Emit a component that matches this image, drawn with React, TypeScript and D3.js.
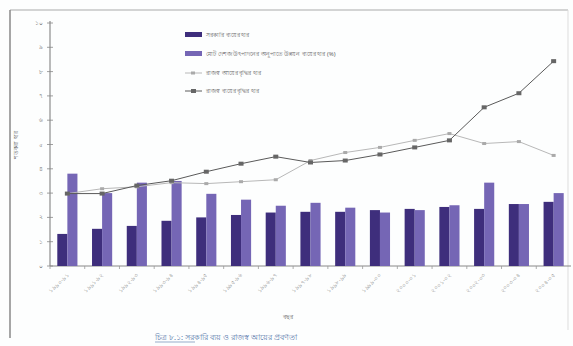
import React from "react";
import * as d3 from "d3";

const years = [
  "১৯৯০-৯১", "১৯৯১-৯২", "১৯৯২-৯৩", "১৯৯৩-৯৪", "১৯৯৪-৯৫",
  "১৯৯৫-৯৬", "১৯৯৬-৯৭", "১৯৯৭-৯৮", "১৯৯৮-৯৯", "১৯৯৯-০০",
  "২০০০-০১", "২০০১-০২", "২০০২-০৩", "২০০৩-০৪", "২০০৪-০৫",
];
const barSeriesA = [1.32, 1.53, 1.65, 1.86, 2.0, 2.1, 2.2, 2.23, 2.23, 2.3, 2.35, 2.43, 2.35, 2.55, 2.64];
const barSeriesB = [3.8, 3.0, 3.43, 3.5, 2.97, 2.73, 2.48, 2.6, 2.4, 2.2, 2.3, 2.5, 3.43, 2.55, 3.0];
const lineSeriesC = [2.98, 3.18, 3.26, 3.43, 3.39, 3.47, 3.55, 4.34, 4.67, 4.88, 5.17, 5.45, 5.04, 5.12, 4.55];
const lineSeriesD = [2.98, 2.98, 3.31, 3.51, 3.88, 4.21, 4.5, 4.26, 4.34, 4.59, 4.88, 5.17, 6.53, 7.11, 8.43];
const yTicks = [0, 1, 2, 3, 4, 5, 6, 7, 8, 9, 10];
const yTickLabels = ["০", "১", "২", "৩", "৪", "৫", "৬", "৭", "৮", "৯", "১০"];
const legendLabels = [
  "সরকারি ব্যয়ের হার",
  "মোট দেশজ উৎপাদনের অনুপাতে উন্নয়ন ব্যয়ের হার (%)",
  "রাজস্ব আয়ের বৃদ্ধির হার",
  "রাজস্ব ব্যয়ের বৃদ্ধির হার",
];
const yAxisTitle = "শতকরা হার";
const xAxisTitle = "বছর";
const caption = "চিত্র ৮.১: সরকারি ব্যয় ও রাজস্ব আয়ের প্রবণতা";

const W = 573;
const H = 346;
const FONT = "'Noto Sans', 'DejaVu Sans', sans-serif";

export default function App() {
  const x = d3.scaleBand<string>().domain(years).range([50, 571]).paddingInner(0.42).paddingOuter(0.21);
  const sub = d3.scaleBand<string>().domain(["a", "b"]).range([0, x.bandwidth()]).padding(0);
  const y = d3.scaleLinear().domain([0, 10]).range([266, 23]);
  const cx = (i: number) => (x(years[i]) as number) + x.bandwidth() / 2;
  const line = d3
    .line<number>()
    .x((_, i) => cx(i))
    .y((d) => y(d));

  const darkBar = "#3e2e7c";
  const lightBar = "#7566b5";
  const lineDark = "#5a5a5a";
  const lineLight = "#b8b8b8";

  return (
    <svg
      width={W}
      height={H}
      style={{ position: "absolute", left: 0, top: 0, background: "#fff", fontFamily: FONT }}
    >
      <rect x={0} y={0} width={W} height={H} fill="#fdfefe" />
      {/* frame */}
      <line x1={10} y1={10} x2={568} y2={10} stroke="#aaa" strokeWidth={1.2} />
      <line x1={10} y1={10} x2={10} y2={338} stroke="#888" strokeWidth={1.5} />
      <line x1={568} y1={10} x2={568} y2={330} stroke="#ddd" strokeWidth={1} />

      {/* y axis */}
      <line x1={50} y1={y(10) - 2} x2={50} y2={y(0)} stroke="#777" strokeWidth={1} />
      {yTicks.map((t, i) => (
        <g key={t}>
          <line x1={47} x2={53} y1={y(t)} y2={y(t)} stroke="#888" strokeWidth={0.8} />
          <text x={43} y={y(t) + 2} fontSize={5.5} textAnchor="end" fill="#777">
            {yTickLabels[i]}
          </text>
        </g>
      ))}
      <text
        transform={`translate(18,145) rotate(-90)`}
        fontSize={6}
        textAnchor="middle"
        fill="#555"
      >
        {yAxisTitle}
      </text>

      {/* x axis */}
      <line x1={50} x2={571} y1={y(0)} y2={y(0)} stroke="#888" strokeWidth={1} />
      {years.map((yr, i) => {
        const bx = (x(yr) as number) - (x.step() - x.bandwidth()) / 2;
        return (
          <line key={"t" + yr} x1={bx} x2={bx} y1={y(0)} y2={y(0) + 3} stroke="#999" strokeWidth={0.8} />
        );
      })}
      {years.map((yr, i) => (
        <text
          key={"l" + yr}
          transform={`translate(${cx(i) + 2},${y(0) + 9}) rotate(-45)`}
          fontSize={5.5}
          textAnchor="end"
          fill="#888"
        >
          {yr}
        </text>
      ))}
      <text x={288} y={319} fontSize={5.5} textAnchor="middle" fill="#666">
        {xAxisTitle}
      </text>

      {/* bars */}
      {years.map((yr, i) => (
        <g key={"b" + yr} transform={`translate(${x(yr)},0)`}>
          <rect x={sub("a")} y={y(barSeriesA[i])} width={sub.bandwidth()} height={y(0) - y(barSeriesA[i])} fill={darkBar} />
          <rect x={sub("b")} y={y(barSeriesB[i])} width={sub.bandwidth()} height={y(0) - y(barSeriesB[i])} fill={lightBar} />
        </g>
      ))}

      {/* lines */}
      <path d={line(lineSeriesC) || ""} fill="none" stroke={lineLight} strokeWidth={1} />
      {lineSeriesC.map((v, i) => (
        <rect key={"mc" + i} x={cx(i) - 2} y={y(v) - 1.5} width={4} height={3} fill="#aaa" />
      ))}
      <path d={line(lineSeriesD) || ""} fill="none" stroke={lineDark} strokeWidth={1} />
      {lineSeriesD.map((v, i) => (
        <rect key={"md" + i} x={cx(i) - 2.5} y={y(v) - 2} width={5} height={4} fill="#666" />
      ))}

      {/* legend */}
      <g fontSize={6} fill="#666">
        <rect x={185} y={32} width={17} height={5} fill={darkBar} />
        <text x={206} y={37}>{legendLabels[0]}</text>
        <rect x={185} y={51} width={17} height={5} fill={lightBar} />
        <text x={206} y={56}>{legendLabels[1]}</text>
        <line x1={185} x2={202} y1={73} y2={73} stroke={lineLight} strokeWidth={1} />
        <rect x={191} y={71.5} width={4} height={3} fill="#aaa" />
        <text x={206} y={75}>{legendLabels[2]}</text>
        <line x1={185} x2={202} y1={91} y2={91} stroke={lineDark} strokeWidth={1} />
        <rect x={191} y={89} width={5} height={4} fill="#666" />
        <text x={206} y={93}>{legendLabels[3]}</text>
      </g>

      {/* caption */}
      <text x={155} y={340} fontSize={7.5} fill="#5577aa">
        {caption}
      </text>
      <line x1={155} x2={195} y1={342} y2={342} stroke="#5577aa" strokeWidth={0.6} />
    </svg>
  );
}
